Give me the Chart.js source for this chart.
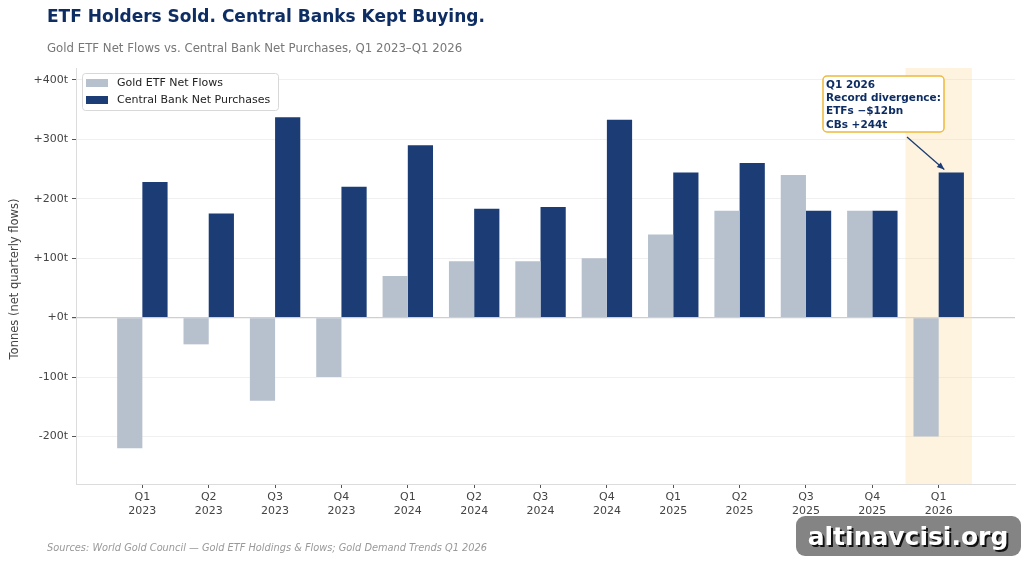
<!DOCTYPE html>
<html>
<head>
<meta charset="utf-8">
<script src="https://cdn.jsdelivr.net/npm/chart.js@4/dist/chart.umd.min.js"></script>
<style>
  html, body { margin: 0; padding: 0; background: #fff; }
  #wrap { width: 1024px; height: 562px; position: relative; }
</style>
</head>
<body>
<div id="wrap"><canvas id="goldChart" width="1024" height="562"></canvas></div>
<script>
// quarters shown on the x axis
const quarters = ['Q1 2023', 'Q2 2023', 'Q3 2023', 'Q4 2023', 'Q1 2024', 'Q2 2024', 'Q3 2024',
  'Q4 2024', 'Q1 2025', 'Q2 2025', 'Q3 2025', 'Q4 2025', 'Q1 2026'];
// tonnes, net per quarter
const etfFlows = [-220, -45, -140, -100, 70, 95, 95, 100, 140, 180, 240, 180, -200];
const cbPurchases = [228, 175, 337, 220, 290, 183, 186, 333, 244, 260, 180, 180, 244];
const yTicks = [-200, -100, 0, 100, 200, 300, 400];
const seriesNames = ['Gold ETF Net Flows', 'Central Bank Net Purchases'];
const noteLines = ['Q1 2026', 'Record divergence:', 'ETFs \u2212$12bn', 'CBs +244t'];

const ETF_COLOR = '#b7c1ce';
const CB_COLOR = '#1b3c74';
const FONT = '"DejaVu Sans", sans-serif';

const toPoints = arr => arr.map((v, i) => ({ x: i, y: v }));

const decor = {
  id: 'decor',
  beforeDatasetsDraw(chart) {
    const { ctx, chartArea, scales } = chart;
    // highlight band behind the last quarter
    const last = quarters.length - 1;
    const x0 = scales.x.getPixelForValue(last - 0.5);
    const x1 = scales.x.getPixelForValue(last + 0.5);
    ctx.save();
    ctx.fillStyle = 'rgba(250, 220, 160, 0.35)';
    ctx.fillRect(x0, chartArea.top, x1 - x0, chartArea.bottom - chartArea.top);
    ctx.restore();
  },
  afterDraw(chart) {
    const { ctx, chartArea } = chart;
    ctx.save();

    // titles
    ctx.textBaseline = 'alphabetic';
    ctx.textAlign = 'left';
    ctx.fillStyle = '#0e2d63';
    ctx.font = 'bold 17px ' + FONT;
    ctx.fillText('ETF Holders Sold. Central Banks Kept Buying.', 47, 22);
    ctx.fillStyle = '#777';
    ctx.font = '11.75px ' + FONT;
    ctx.fillText('Gold ETF Net Flows vs. Central Bank Net Purchases, Q1 2023\u2013Q1 2026', 47, 52);

    // y title
    ctx.save();
    ctx.translate(15, (chartArea.top + chartArea.bottom) / 2 + 3);
    ctx.rotate(-Math.PI / 2);
    ctx.textAlign = 'center';
    ctx.textBaseline = 'middle';
    ctx.fillStyle = '#444';
    ctx.font = '11.5px ' + FONT;
    ctx.fillText('Tonnes (net quarterly flows)', 0, 0);
    ctx.restore();

    // legend
    const lx = 82, ly = 73;
    ctx.fillStyle = 'rgba(255,255,255,0.9)';
    ctx.strokeStyle = '#d8d8d8';
    ctx.lineWidth = 1;
    ctx.beginPath();
    ctx.roundRect(lx + 0.5, ly + 0.5, 196, 37, 3);
    ctx.fill();
    ctx.stroke();
    ctx.font = '11px ' + FONT;
    ctx.textBaseline = 'middle';
    chart.data.datasets.forEach((ds, i) => {
      const yy = ly + 10 + i * 17;
      ctx.fillStyle = ds.backgroundColor;
      ctx.fillRect(lx + 4, yy - 4, 22, 8);
      ctx.fillStyle = '#222';
      ctx.fillText(ds.label, lx + 35, yy);
    });

    // annotation box + arrow
    const bar = chart.getDatasetMeta(1).data[quarters.length - 1];
    const tipX = bar.x - 7, tipY = bar.y - 3;
    const fromX = 907, fromY = 137;
    ctx.strokeStyle = CB_COLOR;
    ctx.fillStyle = CB_COLOR;
    ctx.lineWidth = 1.3;
    ctx.beginPath();
    ctx.moveTo(fromX, fromY);
    ctx.lineTo(tipX, tipY);
    ctx.stroke();
    const ang = Math.atan2(tipY - fromY, tipX - fromX);
    ctx.beginPath();
    ctx.moveTo(tipX, tipY);
    ctx.lineTo(tipX - 8 * Math.cos(ang - 0.4), tipY - 8 * Math.sin(ang - 0.4));
    ctx.lineTo(tipX - 8 * Math.cos(ang + 0.4), tipY - 8 * Math.sin(ang + 0.4));
    ctx.closePath();
    ctx.fill();

    ctx.fillStyle = '#fff';
    ctx.strokeStyle = '#f0b93a';
    ctx.lineWidth = 1.5;
    ctx.beginPath();
    ctx.roundRect(823, 76, 121, 56, 4);
    ctx.fill();
    ctx.stroke();
    ctx.fillStyle = '#0e2d63';
    ctx.font = 'bold 10.5px ' + FONT;
    ctx.textBaseline = 'middle';
    noteLines.forEach((t, i) => ctx.fillText(t, 826, 85 + i * 13.3));

    // source
    ctx.fillStyle = '#999';
    ctx.font = 'italic 9.8px ' + FONT;
    ctx.textBaseline = 'middle';
    ctx.fillText('Sources: World Gold Council \u2014 Gold ETF Holdings & Flows; Gold Demand Trends Q1 2026', 47, 548);

    // watermark
    ctx.fillStyle = 'rgba(110,110,110,0.85)';
    ctx.beginPath();
    ctx.roundRect(796, 516, 225, 40, 9);
    ctx.fill();
    ctx.font = 'bold 25px ' + FONT;
    ctx.textAlign = 'center';
    ctx.fillStyle = '#111';
    ctx.fillText('altinavcisi.org', 910, 540);
    ctx.fillStyle = '#fff';
    ctx.fillText('altinavcisi.org', 908, 538);

    ctx.restore();
  }
};

const ctx = document.getElementById('goldChart').getContext('2d');
const goldChart = new Chart(ctx, {
  type: 'bar',
  data: {
    datasets: [{
      label: seriesNames[0],
      data: toPoints(etfFlows),
      backgroundColor: ETF_COLOR,
      borderWidth: 0
    }, {
      label: seriesNames[1],
      data: toPoints(cbPurchases),
      backgroundColor: CB_COLOR,
      borderWidth: 0
    }]
  },
  options: {
    responsive: false,
    animation: false,
    layout: { padding: { top: 68, right: 9, left: 0, bottom: 0 } },
    datasets: { bar: { categoryPercentage: 0.76, barPercentage: 1.0 } },
    plugins: { legend: { display: false }, tooltip: { enabled: false } },
    scales: {
      x: {
        type: 'linear',
        offset: false,
        min: -1.0,
        max: 13.15,
        afterBuildTicks: scale => { scale.ticks = quarters.map((q, i) => ({ value: i })); },
        afterFit: scale => { scale.height = 78; },
        ticks: {
          autoSkip: false,
          maxRotation: 0,
          padding: 3,
          color: '#444',
          font: { family: FONT, size: 11 },
          callback: v => quarters[v] ? quarters[v].split(' ') : ''
        },
        grid: { offset: false, drawOnChartArea: false, drawTicks: true, tickLength: 4, tickColor: '#555' },
        border: { color: '#dcdcdc' }
      },
      y: {
        min: -280,
        max: 420,
        afterBuildTicks: scale => { scale.ticks = yTicks.map(v => ({ value: v })); },
        afterFit: scale => { scale.width = 76; },
        ticks: {
          padding: 4,
          color: '#444',
          font: { family: FONT, size: 11 },
          callback: v => (v >= 0 ? '+' : '') + v + 't'
        },
        grid: {
          color: c => c.tick && c.tick.value === 0 ? '#cfcfcf' : '#f0f0f0',
          lineWidth: c => c.tick && c.tick.value === 0 ? 1.2 : 1,
          tickLength: 4,
          tickColor: '#555'
        },
        border: { color: '#dcdcdc' }
      }
    }
  },
  plugins: [decor]
});
</script>
</body>
</html>
